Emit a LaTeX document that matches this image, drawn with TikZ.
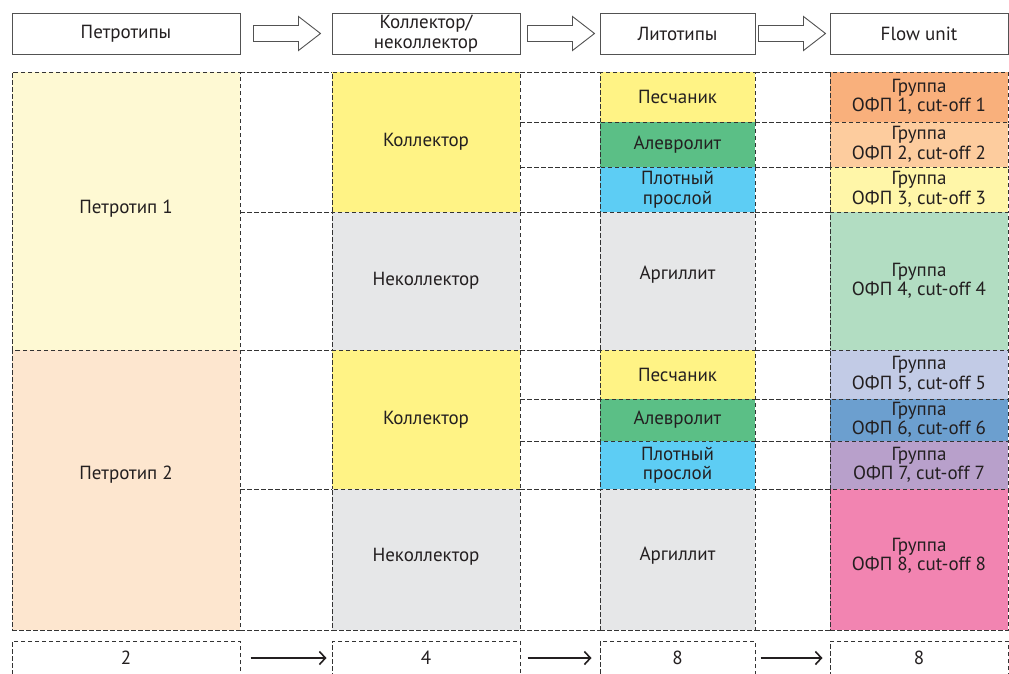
\documentclass[tikz,border=0pt]{standalone}
\usepackage{fontspec}
\setmainfont{PT Sans}
\usetikzlibrary{arrows.meta,calc}
\definecolor{txt}{HTML}{231F20}
\definecolor{ln}{HTML}{333333}
\definecolor{cP1}{HTML}{FEF9D3}
\definecolor{cP2}{HTML}{FDE6CF}
\definecolor{cKol}{HTML}{FFF385}
\definecolor{cGray}{HTML}{E6E7E8}
\definecolor{cAlev}{HTML}{5BBF86}
\definecolor{cPlot}{HTML}{5DCDF4}
\definecolor{cF1}{HTML}{F9B07C}
\definecolor{cF2}{HTML}{FDCC9E}
\definecolor{cF3}{HTML}{FFF6A8}
\definecolor{cF4}{HTML}{B2DDC2}
\definecolor{cF5}{HTML}{C2CBE6}
\definecolor{cF6}{HTML}{6C9FCF}
\definecolor{cF7}{HTML}{B8A0CB}
\definecolor{cF8}{HTML}{F284B1}
\tikzset{
  every node/.style={text=txt, font=\fontsize{19}{19.5}\selectfont, align=center, inner sep=0pt},
  dl/.style={draw=ln, line width=1pt, dash pattern=on 4.5pt off 2.5pt},
  cell/.style={dl, rectangle},
  head/.style={draw=ln!85, line width=1pt, rectangle, minimum height=41pt},
  hollow/.style={draw=ln!85, line width=0.9pt, fill=white},
  flowarrow/.style={draw=txt, line width=1.4pt, -{Straight Barb[length=6pt,width=13pt,line width=1.6pt]}},
  harrow/.pic={\draw[hollow] (0,-8) -- (45,-8) -- (45,-17) -- (67,0) -- (45,17) -- (45,8) -- (0,8) -- cycle;}
}
\begin{document}
\begin{tikzpicture}[x=1pt,y=-1pt]
\clip (0,0) rectangle (1009,673);
\fill[white] (0,0) rectangle (1009,673);
% header
\node[head, minimum width=228pt] (h1) at (126,33.5) {Петротипы};
\node[head, minimum width=188pt] (h2) at (426,33.5) {Коллектор/\\неколлектор};
\node[head, minimum width=155pt] (h3) at (677.5,33.5) {Литотипы};
\node[head, minimum width=178pt] (h4) at (919,33.5) {Flow unit};
\pic at ($(h1.east)+(13,0)$) {harrow};
\pic at ($(h2.east)+(7,0)$) {harrow};
\pic at ($(h3.east)+(3,0)$) {harrow};
% gap lines
\foreach \y in {72,212,350,489,630} \draw[dl] (240,\y) -- (332,\y);
\foreach \y in {72,122,167,212,350,399,441,489,630} {\draw[dl] (520,\y) -- (600,\y); \draw[dl] (755,\y) -- (830,\y);}
% petrotypes
\node[cell, fill=cP1, minimum width=228pt, minimum height=278pt] (p1) at (126,211) {};
\node[cell, fill=cP2, minimum width=228pt, minimum height=280pt] (p2) at (126,490) {};
\node (p1t) at (126,209) {Петротип 1};
\node (p2t) at (126,475) {Петротип 2};
% collector
\node[cell, fill=cKol, minimum width=188pt, minimum height=140pt] (k1) at (426,142) {Коллектор};
\node[cell, fill=cGray, minimum width=188pt, minimum height=138pt] (n1) at (426,281) {Неколлектор};
\node[cell, fill=cKol, minimum width=188pt, minimum height=139pt] (k2) at (426,419.5) {Коллектор};
\node[cell, fill=cGray, minimum width=188pt, minimum height=141pt] (n2) at (426,559.5) {};
\node (n2t) at (426,557) {Неколлектор};
% lithotypes
\node[cell, fill=cKol, minimum width=155pt, minimum height=50pt] (l1) at (677.5,97) {Песчаник};
\node[cell, fill=cAlev, minimum width=155pt, minimum height=45pt] (l2) at (677.5,144.5) {Алевролит};
\node[cell, fill=cPlot, minimum width=155pt, minimum height=45pt] (l3) at (677.5,189.5) {Плотный\\прослой};
\node[cell, fill=cGray, minimum width=155pt, minimum height=138pt] (l4) at (677.5,281) {};
\node (l4t) at (677.5,275) {Аргиллит};
\node[cell, fill=cKol, minimum width=155pt, minimum height=49pt] (l5) at (677.5,374.5) {Песчаник};
\node[cell, fill=cAlev, minimum width=155pt, minimum height=42pt] (l6) at (677.5,420) {Алевролит};
\node[cell, fill=cPlot, minimum width=155pt, minimum height=48pt] (l7) at (677.5,465) {Плотный\\прослой};
\node[cell, fill=cGray, minimum width=155pt, minimum height=141pt] (l8) at (677.5,559.5) {};
\node (l8t) at (677.5,556) {Аргиллит};
% flow units
\node[cell, fill=cF1, minimum width=178pt, minimum height=50pt] (f1) at (919,97) {Группа\\ОФП 1, cut-off 1};
\node[cell, fill=cF2, minimum width=178pt, minimum height=45pt] (f2) at (919,144.5) {Группа\\ОФП 2, cut-off 2};
\node[cell, fill=cF3, minimum width=178pt, minimum height=45pt] (f3) at (919,189.5) {Группа\\ОФП 3, cut-off 3};
\node[cell, fill=cF4, minimum width=178pt, minimum height=138pt] (f4) at (919,281) {Группа\\ОФП 4, cut-off 4};
\node[cell, fill=cF5, minimum width=178pt, minimum height=49pt] (f5) at (919,374.5) {Группа\\ОФП 5, cut-off 5};
\node[cell, fill=cF6, minimum width=178pt, minimum height=42pt] (f6) at (919,420) {Группа\\ОФП 6, cut-off 6};
\node[cell, fill=cF7, minimum width=178pt, minimum height=48pt] (f7) at (919,465) {Группа\\ОФП 7, cut-off 7};
\node[cell, fill=cF8, minimum width=178pt, minimum height=141pt] (f8) at (919,559.5) {};
\node (f8t) at (919,556) {Группа\\ОФП 8, cut-off 8};
% bottom counts
\node[cell, minimum width=228pt, minimum height=40pt] (b1) at (126,661) {};
\node[cell, minimum width=188pt, minimum height=40pt] (b2) at (426,661) {};
\node[cell, minimum width=155pt, minimum height=40pt] (b3) at (677.5,661) {};
\node[cell, minimum width=178pt, minimum height=40pt] (b4) at (919,661) {};
\node (t1) at (126,658) {2};
\node (t2) at (426,658) {4};
\node (t3) at (677.5,658) {8};
\node (t4) at (919,658) {8};
\draw[flowarrow] ($(b1.east |- t1)+(10,0)$) -- ($(b2.west |- t2)+(-5,0)$);
\draw[flowarrow] ($(b2.east |- t2)+(7,0)$) -- ($(b3.west |- t3)+(-8,0)$);
\draw[flowarrow] ($(b3.east |- t3)+(5,0)$) -- ($(b4.west |- t4)+(-7,0)$);
\end{tikzpicture}
\end{document}
